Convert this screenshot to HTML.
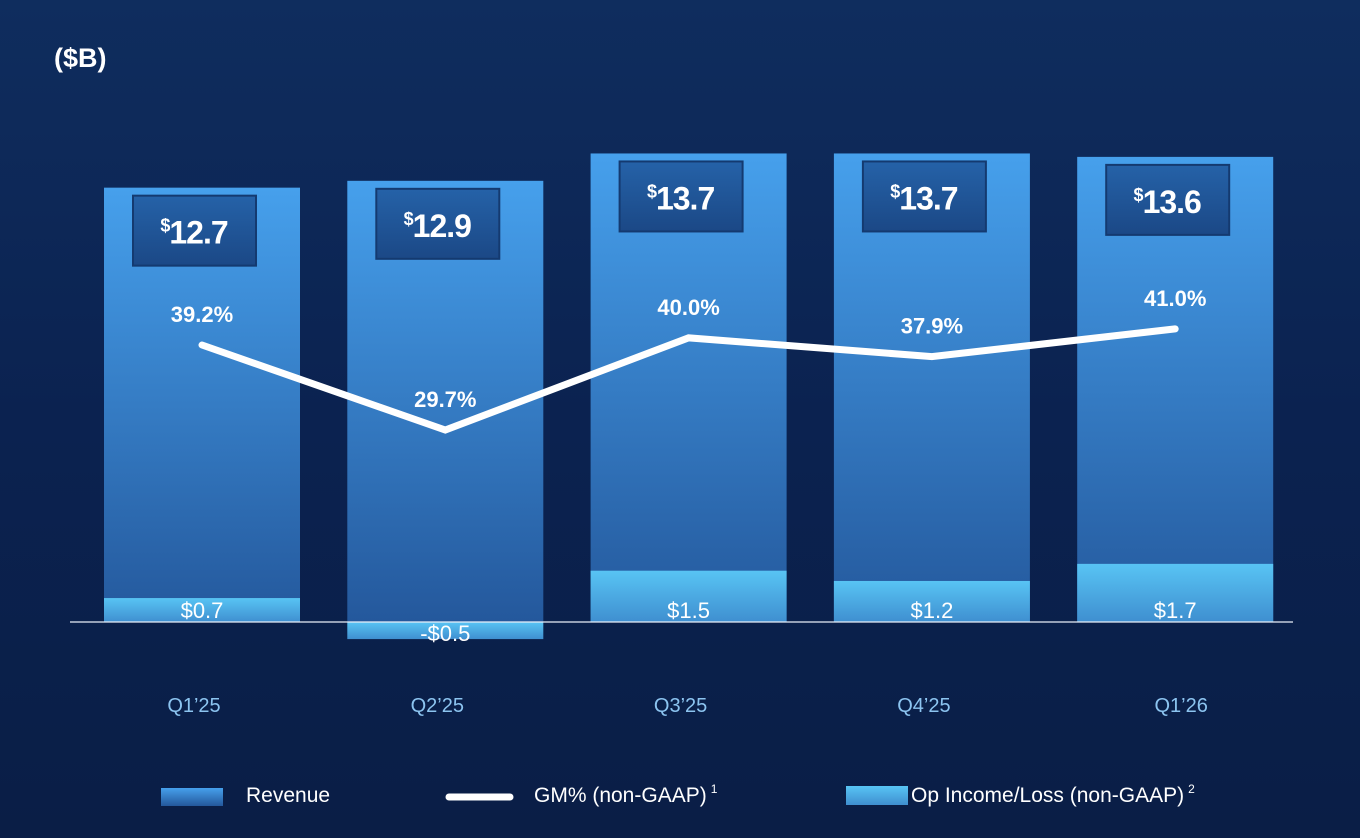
<!DOCTYPE html>
<html><head><meta charset="utf-8"><style>
html,body{margin:0;padding:0}
body{width:1360px;height:838px;overflow:hidden;background:linear-gradient(180deg,#0f2d5e 0%,#0b2250 50%,#0a1e46 100%);font-family:"Liberation Sans",sans-serif;position:relative}
.t{position:absolute;color:#fff}
</style></head><body>
<div class="t" style="left:54px;top:43px;font-size:27px;font-weight:bold">($B)</div>
<svg id="c" width="1360" height="838" style="position:absolute;left:0;top:0">
<defs>
<linearGradient id="rev" x1="0" y1="0" x2="0" y2="1"><stop offset="0" stop-color="#46a0ec"/><stop offset="1" stop-color="#24589c"/></linearGradient>
<linearGradient id="op" x1="0" y1="0" x2="0" y2="1"><stop offset="0" stop-color="#58c4f4"/><stop offset="1" stop-color="#3f8fd0"/></linearGradient>
<linearGradient id="box" x1="0" y1="0" x2="0" y2="1"><stop offset="0" stop-color="#2562a8"/><stop offset="1" stop-color="#1b4886"/></linearGradient>
</defs>
</svg>
<script>
const categories=["Q1\u201925","Q2\u201925","Q3\u201925","Q4\u201925","Q1\u201926"];
const revenue=[12.7,12.9,13.7,13.7,13.6];
const opIncome=[0.7,-0.5,1.5,1.2,1.7];
const gm=[39.2,29.7,40.0,37.9,41.0];
const revLabels=["12.7","12.9","13.7","13.7","13.6"];
const opLabels=["$0.7","-$0.5","$1.5","$1.2","$1.7"];
const gmLabels=["39.2%","29.7%","40.0%","37.9%","41.0%"];
const NS="http://www.w3.org/2000/svg";
const svg=document.getElementById('c');
const base=622,scale=34.2,bw=196;
const xc=i=>202+i*243.3;
const yv=v=>base-v*scale;
const yg=g=>345+(39.2-g)*8.95;
function mk(t,a,p){const e=document.createElementNS(NS,t);for(const k in a)e.setAttribute(k,a[k]);(p||svg).appendChild(e);return e;}
categories.forEach((c,i)=>{
  const r=mk('rect',{x:xc(i)-bw/2,y:yv(revenue[i]),width:bw,height:revenue[i]*scale,fill:'url(#rev)'});
  
  
  const o=opIncome[i];
  const ob=mk('rect',{x:xc(i)-bw/2,y:Math.min(yv(o),base),width:bw,height:Math.abs(o)*scale,fill:'url(#op)'});
  
  
  const ol=mk('text',{x:xc(i),y:(o>=0?Math.max(yv(o)+(base-yv(o))/2+5,base-4):base+19),'text-anchor':'middle',fill:'#fff','font-size':22,'font-family':'Liberation Sans, sans-serif'});
  ol.textContent=opLabels[i];
  
  
  const by=yv(revenue[i])+8;
  const bx=mk('rect',{x:xc(i)-69,y:by,width:123,height:70,fill:'url(#box)',stroke:'#143a70','stroke-width':2});
  
  
  const bt=mk('text',{x:xc(i)-8,y:by+48,'text-anchor':'middle',fill:'#fff','font-size':32,'font-weight':'bold','font-family':'Liberation Sans, sans-serif','letter-spacing':'-1'});
  const s=mk('tspan',{'font-size':18,dy:'-12'},bt);s.textContent='$';
  const n=mk('tspan',{dy:'12'},bt);n.textContent=revLabels[i];
  
  
  const xl=mk('text',{x:xc(i)-8+(i==4?14:0),y:712,'text-anchor':'middle',fill:'#8cc4f0','font-size':20,'font-family':'Liberation Sans, sans-serif'});
  xl.textContent=c;
  
  
});
const ax=mk('line',{x1:70,x2:1293,y1:base,y2:base,stroke:'#e8eef8','stroke-width':1.2});


const pl=mk('polyline',{points:gm.map((g,i)=>xc(i)+','+yg(g)).join(' '),fill:'none',stroke:'#fff','stroke-width':7,'stroke-linecap':'round','stroke-linejoin':'miter'});


gm.forEach((g,i)=>{
  const t=mk('text',{x:xc(i),y:yg(g)-23,'text-anchor':'middle',fill:'#fff','font-size':22,'font-weight':'bold','font-family':'Liberation Sans, sans-serif'});
  t.textContent=gmLabels[i];
  
  
});
const l1=mk('rect',{x:161,y:788,width:62,height:18,fill:'url(#rev)'});


const l1t=mk('text',{x:246,y:802,fill:'#fff','font-size':21,'font-family':'Liberation Sans, sans-serif'});l1t.textContent='Revenue';


const l2=mk('line',{x1:449,x2:510,y1:797,y2:797,stroke:'#fff','stroke-width':7,'stroke-linecap':'round'});


const l2t=mk('text',{x:534,y:802,fill:'#fff','font-size':21,'font-family':'Liberation Sans, sans-serif'});
l2t.textContent='GM% (non-GAAP)';
const s1=mk('tspan',{'font-size':12,dy:'-9',dx:'4'},l2t);s1.textContent='1';


const l3=mk('rect',{x:846,y:786,width:62,height:19,fill:'url(#op)'});


const l3t=mk('text',{x:911,y:802,fill:'#fff','font-size':21,'font-family':'Liberation Sans, sans-serif'});
l3t.textContent='Op Income/Loss (non-GAAP)';
const s2=mk('tspan',{'font-size':12,dy:'-9',dx:'4'},l3t);s2.textContent='2';


</script>
</body></html>
